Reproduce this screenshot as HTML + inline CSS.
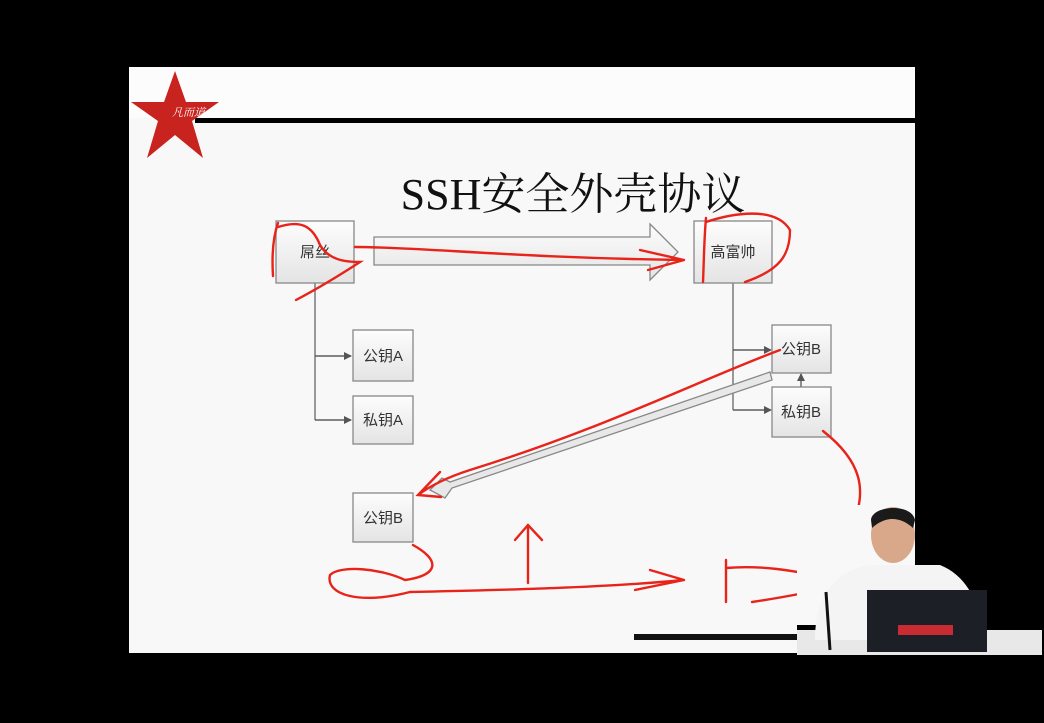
<!DOCTYPE html>
<html><head><meta charset="utf-8"><style>
html,body{margin:0;padding:0;background:#000;width:1044px;height:723px;overflow:hidden}
svg{display:block}
</style></head><body>
<svg width="1044" height="723" viewBox="0 0 1044 723" xmlns="http://www.w3.org/2000/svg">
<defs>
<linearGradient id="g" x1="0" y1="0" x2="0" y2="1"><stop offset="0" stop-color="#fdfdfd"/><stop offset="1" stop-color="#e4e4e4"/></linearGradient>
<marker id="ah" markerWidth="8" markerHeight="8" refX="7" refY="4" orient="auto" markerUnits="userSpaceOnUse"><path d="M0,0 L8,4 L0,8 Z" fill="#555"/></marker>
</defs>
<rect x="0" y="0" width="1044" height="723" fill="#000"/>
<rect x="129" y="67" width="786" height="586" fill="#f8f8f8"/>
<rect x="129" y="67" width="786" height="51" fill="#fcfcfc"/>
<rect x="195" y="118" width="720" height="5" fill="#000"/>
<polygon points="175,71 186,102 219,102 192,121 203,158 175,135 147,158 158,121 131,102 164,102" fill="#c8231f"/>
<text x="172" y="116" font-family="Liberation Serif, Noto Serif CJK SC, serif" font-size="11" fill="#fff" font-style="italic">凡而道</text>
<text x="573" y="209" text-anchor="middle" font-family="Liberation Serif, Noto Serif CJK SC, serif" font-size="44" fill="#111">SSH安全外壳协议</text>
<g stroke="#666" stroke-width="1.3" fill="none">
<path d="M315,283 V420 M315,356 H351 M315,420 H351" />
<path d="M733,283 V410 M733,350 H770 M733,410 H770"/>
</g>
<g stroke="#555" stroke-width="1.3">
<line x1="315" y1="356" x2="351" y2="356" marker-end="url(#ah)"/>
<line x1="315" y1="420" x2="351" y2="420" marker-end="url(#ah)"/>
<line x1="733" y1="350" x2="771" y2="350" marker-end="url(#ah)"/>
<line x1="733" y1="410" x2="771" y2="410" marker-end="url(#ah)"/>
<line x1="801" y1="387" x2="801" y2="374" marker-end="url(#ah)"/>
</g>
<g stroke="#888" stroke-width="1.3" fill="url(#g)">
<rect x="276" y="221" width="78" height="62"/>
<rect x="694" y="221" width="78" height="62"/>
<rect x="353" y="330" width="60" height="51"/>
<rect x="353" y="396" width="60" height="48"/>
<rect x="772" y="325" width="59" height="48"/>
<rect x="772" y="387" width="59" height="50"/>
<rect x="353" y="493" width="60" height="49"/>
</g>
<g font-family="Liberation Sans, Noto Sans CJK SC, sans-serif" font-size="15" fill="#333" text-anchor="middle">
<text x="315" y="257">屌丝</text>
<text x="733" y="257">高富帅</text>
<text x="383" y="361">公钥A</text>
<text x="383" y="425">私钥A</text>
<text x="801" y="354">公钥B</text>
<text x="801" y="417">私钥B</text>
<text x="383" y="523">公钥B</text>
</g>
<polygon points="374,237 650,237 650,224 678,252 650,280 650,265 374,265" fill="url(#g)" stroke="#888" stroke-width="1.3"/>
<polygon points="770,372 772,380 452,488 445,498 430,490 442,478 450,482" fill="#e8e8e8" stroke="#888" stroke-width="1.3"/>
<g stroke="#e8231a" stroke-width="2.4" fill="none" stroke-linecap="round">
<path d="M278,223 C272,240 272,260 273,276"/>
<path d="M278,227 C300,220 312,225 320,245 C330,262 350,262 360,262 C340,275 315,290 296,300"/>
<path d="M355,247 C420,247 520,258 684,260 M640,250 L684,260 L648,270"/>
<path d="M706,218 C704,240 704,260 703,282"/>
<path d="M706,222 C730,214 775,205 790,230 C790,255 780,270 745,282"/>
<path d="M780,350 C700,380 600,430 470,470 C445,478 430,486 418,495 M440,472 L418,495 L441,497"/>
<path d="M823,431 C860,460 870,490 850,530 C835,555 815,565 805,573 M802,548 L805,573 L830,560"/>
<path d="M413,545 C440,560 440,575 405,580 C380,568 340,565 330,575 C325,595 360,605 410,592 C500,590 600,588 684,580 M650,570 L684,580 L635,590"/>
<path d="M528,583 L528,525 M515,540 L528,525 L542,540"/>
<path d="M726,560 L726,602 M726,568 C760,565 790,570 830,578 M752,602 C780,598 810,592 830,588"/>
</g>
<rect x="634" y="634" width="170" height="6" fill="#111"/>
<!-- presenter -->
<rect x="797" y="505" width="247" height="150" fill="#000"/>
<rect x="797" y="505" width="118" height="120" fill="#f8f8f8"/>
<rect x="797" y="630" width="245" height="25" fill="#e8e8e8"/>
<path d="M815,640 C815,590 840,570 870,565 L940,565 C965,575 980,600 985,640 Z" fill="#f4f4f4"/>
<ellipse cx="893" cy="535" rx="22" ry="28" fill="#d9a88a"/>
<path d="M871,520 C872,505 912,503 915,520 L913,528 C900,516 885,516 872,528 Z" fill="#1a1a1a"/>
<rect x="867" y="590" width="120" height="62" fill="#1c1f26"/>
<rect x="898" y="625" width="55" height="10" fill="#c82b32"/>
<line x1="826" y1="592" x2="830" y2="650" stroke="#111" stroke-width="3"/>
<rect x="0" y="655" width="1044" height="68" fill="#000"/>
</svg>
</body></html>
